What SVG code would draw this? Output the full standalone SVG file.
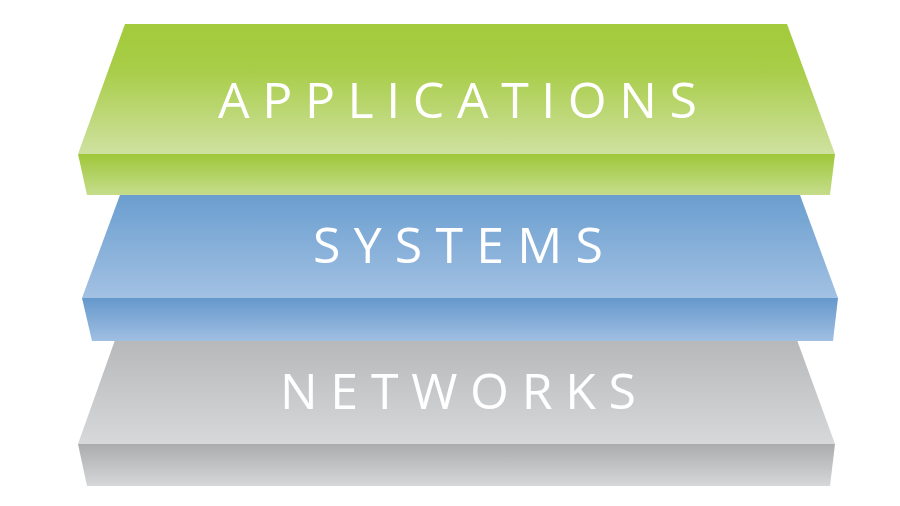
<svg xmlns="http://www.w3.org/2000/svg" width="900" height="506" viewBox="0 0 900 506">
<defs>
<linearGradient id="gTop" x1="0" y1="0" x2="0" y2="1"><stop offset="0" stop-color="#a3cb3b"/><stop offset="0.35" stop-color="#a8cd48"/><stop offset="1" stop-color="#cfe1a0"/></linearGradient>
<linearGradient id="gFront" x1="0" y1="0" x2="0" y2="1"><stop offset="0" stop-color="#9ec73a"/><stop offset="1" stop-color="#c6dd8c"/></linearGradient>
<linearGradient id="bTop" x1="0" y1="0" x2="0" y2="1"><stop offset="0" stop-color="#6a9ecf"/><stop offset="1" stop-color="#a3c1e3"/></linearGradient>
<linearGradient id="bFront" x1="0" y1="0" x2="0" y2="1"><stop offset="0" stop-color="#6598cc"/><stop offset="1" stop-color="#a0bfe2"/></linearGradient>
<linearGradient id="nTop" x1="0" y1="0" x2="0" y2="1"><stop offset="0" stop-color="#b7b8ba"/><stop offset="1" stop-color="#d7d8da"/></linearGradient>
<linearGradient id="nFront" x1="0" y1="0" x2="0" y2="1"><stop offset="0" stop-color="#abacae"/><stop offset="1" stop-color="#d6d7d9"/></linearGradient>
</defs>
<style>
text{font-family:"Open Sans","Noto Sans","Liberation Sans",sans-serif;font-size:50px;fill:#ffffff;text-anchor:middle}
</style>
<rect width="900" height="506" fill="#ffffff"/>
<g id="networks">
<polygon points="115,340 797,340 835,444 78,444" fill="url(#nTop)"/>
<polygon points="78,444 835,444 830,486 87,486" fill="url(#nFront)"/>
<text x="458" y="409" textLength="356" lengthAdjust="spacing">NETWORKS</text>
</g>
<g id="systems">
<polygon points="120,195 800,195 838,298 82,298" fill="url(#bTop)"/>
<polygon points="82,298 838,298 833,341 92,341" fill="url(#bFront)"/>
<text x="458" y="263" textLength="290" lengthAdjust="spacing">SYSTEMS</text>
</g>
<g id="applications">
<polygon points="125,24 787,24 835,154 78,154" fill="url(#gTop)"/>
<polygon points="78,154 835,154 830,195 87,195" fill="url(#gFront)"/>
<text x="457.5" y="118" textLength="479" lengthAdjust="spacing">APPLICATIONS</text>
</g>
</svg>
